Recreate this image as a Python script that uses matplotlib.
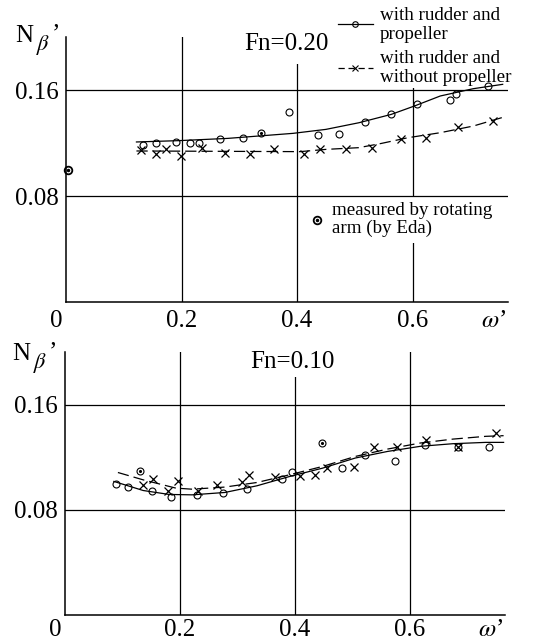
#! /usr/bin/env python

import matplotlib
matplotlib.use('Agg')
import matplotlib.pyplot as plt
import matplotlib.transforms as transforms
from matplotlib.lines import Line2D

plt.rcParams['font.family'] = ['Liberation Serif', 'DejaVu Serif']
plt.rcParams['mathtext.fontset'] = 'stix'

# ---- Fn = 0.20 ----
w20_prop = [0.133, 0.155, 0.191, 0.214, 0.231, 0.267, 0.306, 0.386, 0.437, 0.472,
            0.518, 0.563, 0.607, 0.665, 0.675, 0.730]
n20_prop = [0.1182, 0.1202, 0.1208, 0.1197, 0.1202, 0.1233, 0.1235, 0.1436, 0.1260, 0.1265,
            0.1361, 0.1421, 0.1492, 0.1522, 0.1567, 0.1630]
w20_dot = [0.337]
n20_dot = [0.1278]
w20_noprop = [0.130, 0.155, 0.173, 0.199, 0.235, 0.275, 0.319, 0.360, 0.412, 0.440,
              0.484, 0.529, 0.580, 0.623, 0.679, 0.739]
n20_noprop = [0.1145, 0.1119, 0.1152, 0.1102, 0.1160, 0.1122, 0.1114, 0.1152, 0.1119, 0.1152,
              0.1157, 0.1165, 0.1233, 0.1240, 0.1321, 0.1366]
w20_arm = [0.003]
n20_arm = [0.100]
# faired curves
w20_fit_prop = [0.122, 0.195, 0.280, 0.393, 0.450, 0.507, 0.563, 0.603, 0.648, 0.705, 0.756]
n20_fit_prop = [0.1208, 0.1218, 0.1235, 0.1273, 0.1303, 0.1353, 0.1416, 0.1479, 0.1555, 0.1610, 0.1643]
w20_fit_noprop = [0.122, 0.405, 0.450, 0.507, 0.546, 0.592, 0.648, 0.705, 0.758]
n20_fit_noprop = [0.1140, 0.1135, 0.1152, 0.1165, 0.1197, 0.1240, 0.1278, 0.1328, 0.1396]

# ---- Fn = 0.10 ----
w10_prop = [0.089, 0.109, 0.152, 0.184, 0.230, 0.275, 0.317, 0.377, 0.395, 0.482,
            0.522, 0.574, 0.627, 0.683, 0.738]
n10_prop = [0.0998, 0.0970, 0.0947, 0.0896, 0.0914, 0.0927, 0.0957, 0.1036, 0.1084, 0.1117,
            0.1219, 0.1168, 0.1295, 0.1275, 0.1275]
w10_dot = [0.130, 0.447]
n10_dot = [0.1097, 0.1308]
w10_noprop = [0.135, 0.153, 0.180, 0.197, 0.231, 0.264, 0.308, 0.320, 0.365, 0.408,
              0.435, 0.456, 0.502, 0.538, 0.577, 0.628, 0.683, 0.749]
n10_noprop = [0.0990, 0.1036, 0.0947, 0.1023, 0.0947, 0.0990, 0.1008, 0.1067, 0.1049, 0.1054,
              0.1067, 0.1117, 0.1122, 0.1277, 0.1277, 0.1333, 0.1277, 0.1384]
w10_fit_prop = [0.085, 0.136, 0.181, 0.221, 0.278, 0.334, 0.391, 0.448, 0.505, 0.561,
                0.618, 0.675, 0.732, 0.763]
n10_fit_prop = [0.1016, 0.0947, 0.0917, 0.0914, 0.0932, 0.0983, 0.1054, 0.1117, 0.1194, 0.1244,
                0.1283, 0.1303, 0.1313, 0.1313]
w10_fit_noprop = [0.092, 0.136, 0.193, 0.221, 0.278, 0.334, 0.391, 0.448, 0.505, 0.561,
                  0.618, 0.675, 0.732, 0.763]
n10_fit_noprop = [0.1084, 0.1028, 0.0965, 0.0957, 0.0973, 0.1008, 0.1067, 0.1130, 0.1206, 0.1262,
                  0.1308, 0.1338, 0.1359, 0.1364]

grid_w = [0.2, 0.4, 0.6]
grid_n = [0.08, 0.16]
xticks = [0, 0.2, 0.4, 0.6, 0.74]
xticklabels = ['0', '0.2', '0.4', '0.6', "$\\omega$\u2019"]
yticks = [0.08, 0.16]
yticklabels = ['0.08', '0.16']

DASH = (9, 4)
BIG = 18
SMALL = 13.7

fig = plt.figure(figsize=(5.33, 6.43), dpi=100)


def setup(ax, title, tx, ty, tpad, xpad):
  ax.set_xlim(0, 0.765)
  ax.set_ylim(0, 0.2)
  for s in ('top', 'right'):
    ax.spines[s].set_visible(False)
  for s in ('left', 'bottom'):
    ax.spines[s].set_linewidth(1.1)
  # vertical lines sit under the text boxes, horizontal ones above
  for g in grid_w:
    ax.axvline(g, color='k', lw=0.9, zorder=0.8)
  for g in grid_n:
    ax.axhline(g, color='k', lw=0.9, zorder=1.5)
  ax.set_xticks(xticks)
  ax.set_xticklabels(xticklabels)
  ax.set_yticks(yticks)
  ax.set_yticklabels(yticklabels)
  ax.tick_params(length=0, labelsize=BIG)
  ax.tick_params(axis='y', pad=5.5)
  ax.tick_params(axis='x', pad=xpad)
  lab = ax.get_xticklabels()[0]
  lab.set_transform(lab.get_transform() + transforms.ScaledTranslation(-7 / 72., 0, fig.dpi_scale_trans))
  ax.text(tx, ty, title, transform=ax.transAxes, ha='center', va='center', fontsize=BIG,
          zorder=1, bbox=dict(facecolor='white', edgecolor='none', pad=tpad))


def draw(ax, wp, np_, wd, nd, wn, nn, wfp, nfp, wfn, nfn):
  ax.plot(wfp, nfp, color='k', lw=0.9, zorder=2)
  l, = ax.plot(wfn, nfn, color='k', lw=0.9, zorder=2)
  l.set_dashes(DASH)
  ax.plot(wp, np_, 'o', ms=5, mfc='none', mec='k', mew=0.8, zorder=2.5)
  ax.plot(wd, nd, 'o', ms=5, mfc='none', mec='k', mew=0.8, zorder=2.5)
  ax.plot(wd, nd, '.', ms=2.5, color='k', zorder=2.5)
  ax.plot(wn, nn, 'x', ms=5.5, mec='k', mew=0.9, zorder=2.5)


def ylabel(x, y):
  # N, lowered italic beta, prime
  fig.text(x / 533., 1 - y / 643., "N", fontsize=BIG, ha='left', va='center')
  fig.text((x + 21) / 533., 1 - (y + 9) / 643., "$\\beta$", fontsize=16, ha='left', va='center')
  fig.text((x + 37) / 533., 1 - (y - 2) / 643., "\u2019", fontsize=BIG, ha='left', va='center')


# top panel
ax1 = fig.add_axes([0.1238, 0.5303, 0.829, 0.4121])
setup(ax1, 'Fn=0.20', 0.498, 0.975, 7, 6)
draw(ax1, w20_prop, n20_prop, w20_dot, n20_dot, w20_noprop, n20_noprop,
     w20_fit_prop, n20_fit_prop, w20_fit_noprop, n20_fit_noprop)
ax1.plot(w20_arm, n20_arm, 'o', ms=5.5, mfc='none', mec='k', mew=1.3, clip_on=False, zorder=3)
ax1.plot(w20_arm, n20_arm, '.', ms=3, color='k', clip_on=False, zorder=3)

h_prop = Line2D([], [], color='k', lw=0.9, marker='o', ms=4, mfc='none', mew=0.8)
h_noprop = Line2D([], [], color='k', lw=0.9, marker='x', ms=4.5, mew=0.8, dashes=(5, 3))
leg1 = ax1.legend([h_prop, h_noprop],
                  ['with rudder and\npropeller', 'with rudder and\nwithout propeller'],
                  loc='upper left', bbox_to_anchor=(0.612, 1.122), fontsize=SMALL,
                  handlelength=1.8, handletextpad=0.4, labelspacing=0.4,
                  borderpad=0.1, borderaxespad=0, frameon=True, fancybox=False,
                  facecolor='white', edgecolor='none', framealpha=1)
for t in leg1.get_texts():
  t.set_linespacing(1.15)
leg1.set_zorder(1)
ax1.add_artist(leg1)

h_arm = (Line2D([], [], ls='none', marker='o', ms=5.5, mfc='none', mec='k', mew=1.3),
         Line2D([], [], ls='none', marker='.', ms=3, color='k'))
leg2 = ax1.legend([h_arm], ['measured by rotating\narm (by Eda)'],
                  loc='upper left', bbox_to_anchor=(0.541, 0.398), fontsize=SMALL,
                  handlelength=0.7, handletextpad=0.4, borderpad=0.3, borderaxespad=0,
                  frameon=True, fancybox=False, facecolor='white', edgecolor='none', framealpha=1)
for t in leg2.get_texts():
  t.set_linespacing(1.05)
leg2.set_zorder(1)

# bottom panel
ax2 = fig.add_axes([0.122, 0.0435, 0.825, 0.409])
setup(ax2, 'Fn=0.10', 0.516, 0.962, 3, 2.5)
draw(ax2, w10_prop, n10_prop, w10_dot, n10_dot, w10_noprop, n10_noprop,
     w10_fit_prop, n10_fit_prop, w10_fit_noprop, n10_fit_noprop)

ylabel(15, 36)
ylabel(12, 354)

fig.savefig('out.png', dpi=100)
